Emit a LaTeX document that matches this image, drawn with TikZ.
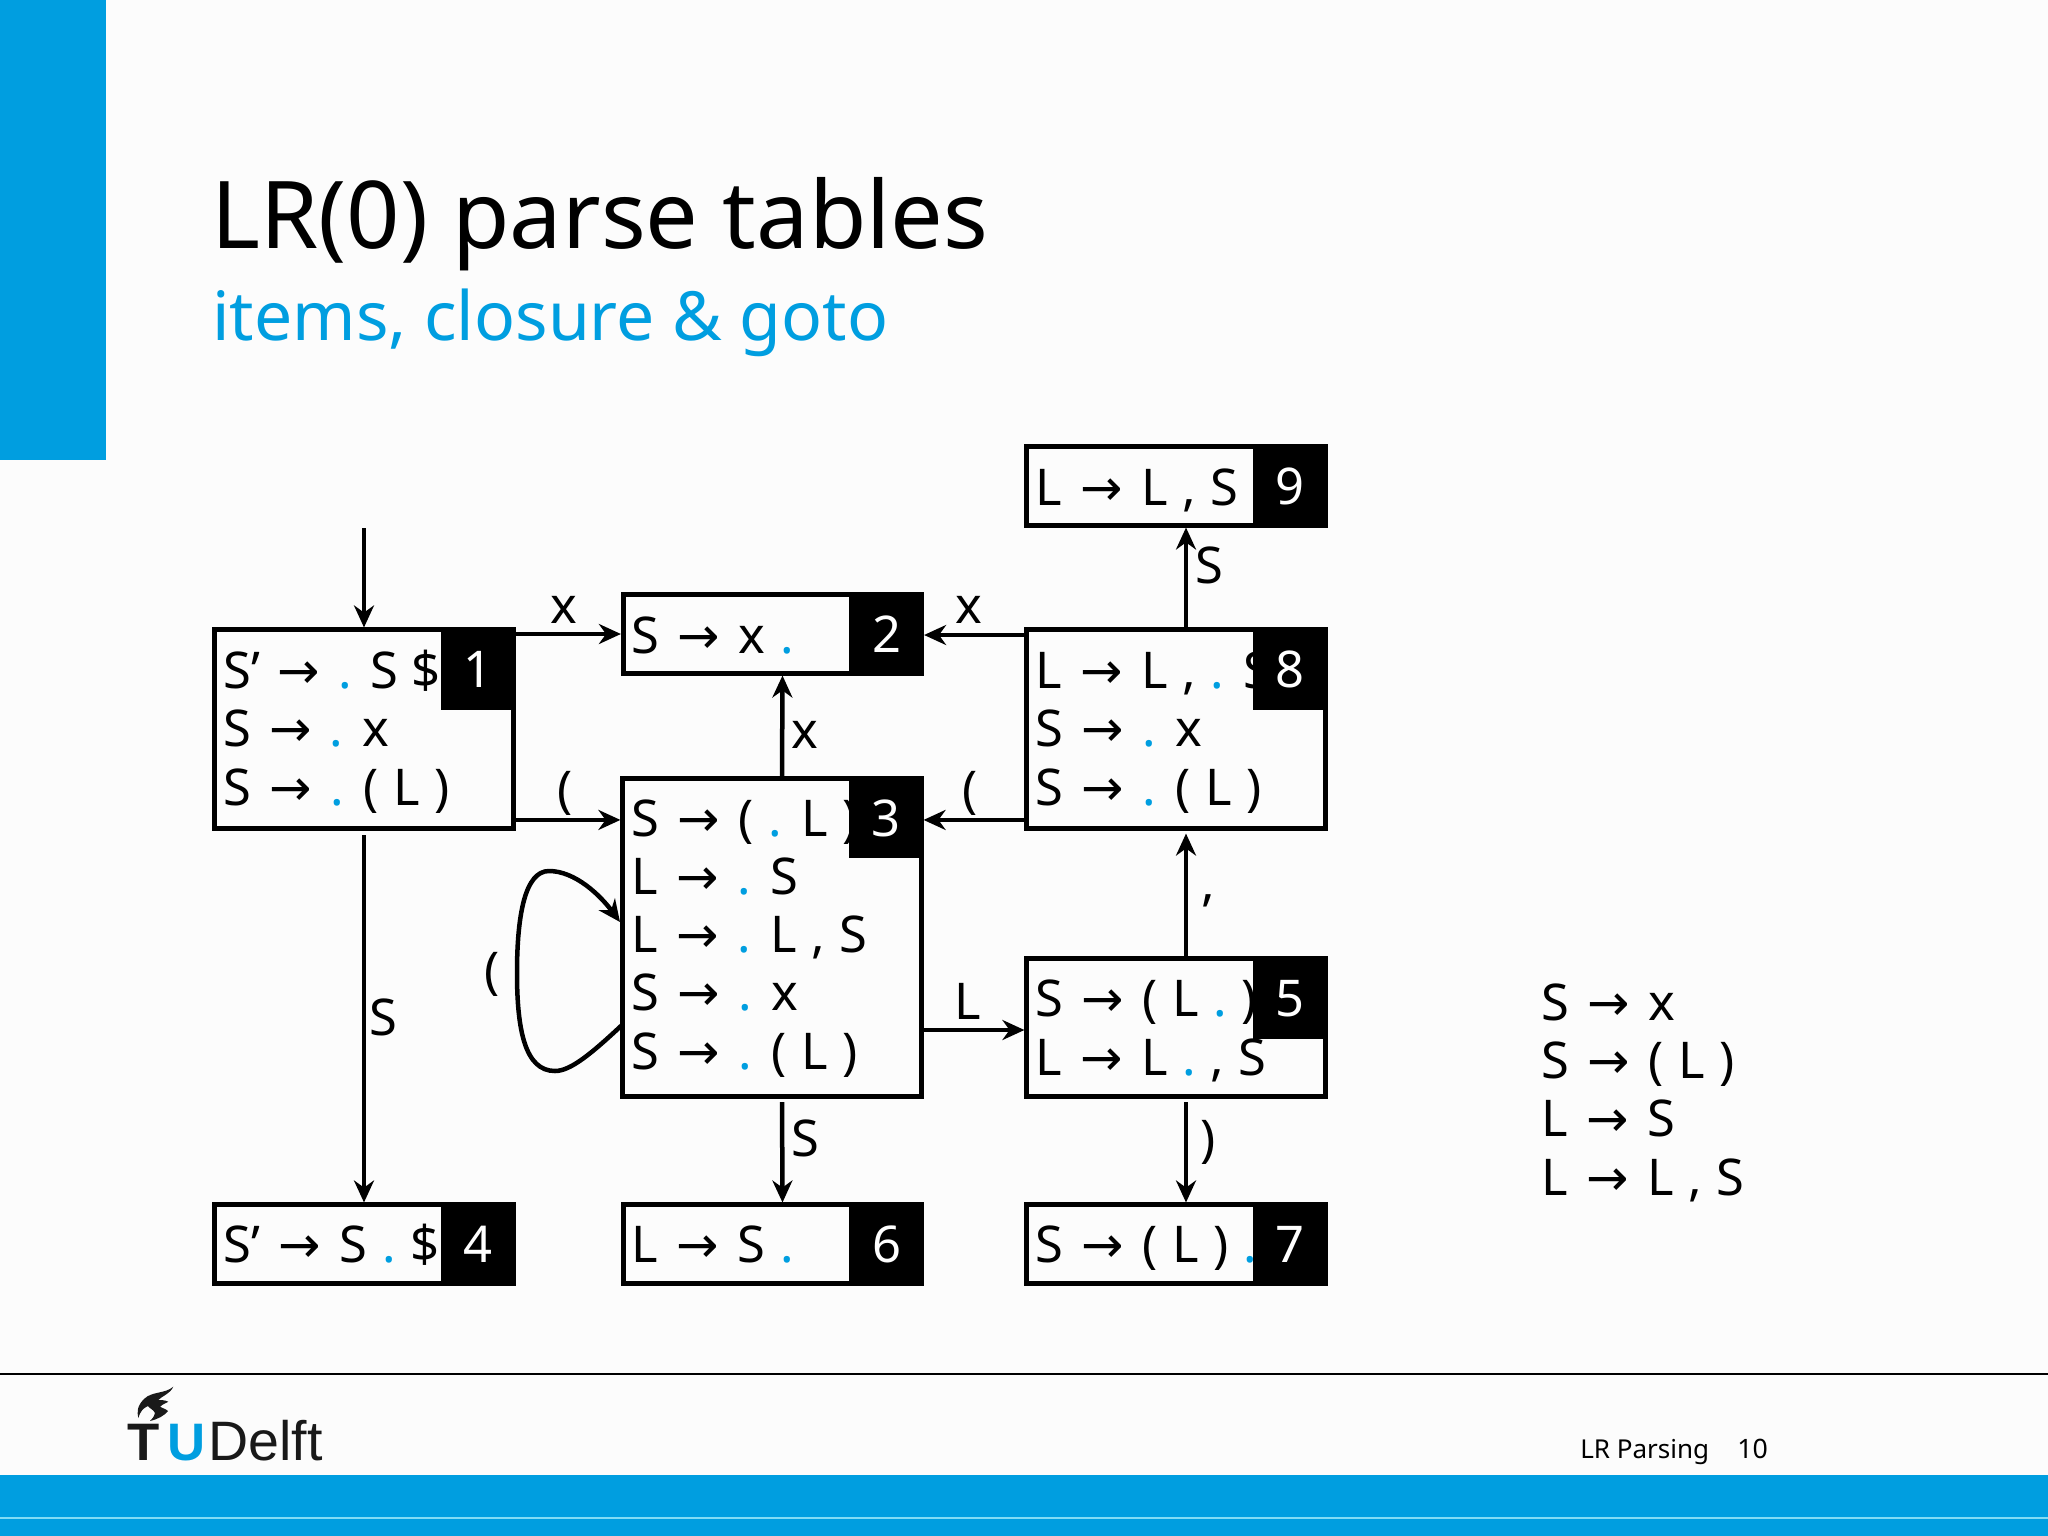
\documentclass[tikz,border=0pt]{standalone}
\usepackage{fontspec}
\setmainfont{Noto Sans}
\newfontfamily\rulefamily[WordSpace=1.05]{Noto Sans}
\newfontfamily\arrowfont{DejaVu Sans}
\newfontfamily\logofont{Liberation Sans}
\usepackage{xcolor}
\usetikzlibrary{arrows.meta,positioning}
\definecolor{tublue}{RGB}{0,158,224}
\definecolor{tuline}{RGB}{130,220,245}
\newcommand{\ar}{\hspace{1.2pt}{\arrowfont\char"2192}\hspace{1.2pt}}
\newcommand{\dt}{{\color{tublue}\textbf{.}}}

\begin{document}
\begin{tikzpicture}[>={Stealth[length=0.22cm,width=0.2cm]}, x=0.01cm, y=-0.01cm, line width=0.045cm]
  % Styles
  \tikzstyle{state}=[draw, line width=0.05cm, inner sep=0, minimum width=2.98cm]
  \tikzstyle{tag}=[fill=black, text=white, inner sep=0, outer sep=0, minimum width=0.75cm, minimum height=0.82cm, text height=11pt, text depth=0pt, font=\fontsize{14.4}{16}\selectfont]
  \tikzstyle{rules}=[anchor=base west, inner sep=0, align=left, font=\rulefamily\fontsize{14.4}{16.5}\selectfont]
  \tikzstyle{lab}=[inner sep=0, font=\fontsize{14.4}{16}\selectfont]
  \tikzstyle{band}=[fill=tublue, draw=none, inner sep=0, outer sep=0, anchor=north west]
  \tikzstyle{edge}=[->, shorten <=1pt]

  \useasboundingbox (0,0) rectangle (2048,1536);
  \fill[black!1] (0,0) rectangle (2048,1536);

  % Slide frame
  \node[band, minimum width=1.06cm, minimum height=4.60cm] (side) at (0,0) {};
  \node[band, minimum width=20.48cm, minimum height=0.61cm] (foot) at (0,1475) {};
  \coordinate (rulea) at (0,1374);
  \coordinate (ruleb) at (2048,1374);
  \coordinate (linea) at (0,1518);
  \coordinate (lineb) at (2048,1518);
  \draw[line width=0.02cm] (rulea) -- (ruleb);
  \draw[tuline, line width=0.015cm] (linea) -- (lineb);

  \node[anchor=base west, inner sep=0, font=\fontsize{26.6}{30}\selectfont] (title) at (209,248) {LR(0) parse tables};
  \node[anchor=base west, inner sep=0, text=tublue, font=\fontsize{19.3}{24}\selectfont] (subtitle) at (210,340) {items, closure \& goto};

  % Logo
  \fill[black!90] (173.3,1386.7) .. controls (165,1394) and (152,1391) .. (144,1399)
    .. controls (137,1406) and (137,1412) .. (138.3,1418)
    .. controls (140,1412) and (143,1408) .. (148,1406)
    .. controls (149,1408) and (154,1410) .. (155,1413)
    .. controls (154,1417) and (152,1419) .. (150,1421)
    .. controls (158,1419) and (164,1416) .. (168,1411)
    .. controls (166,1409) and (162,1408) .. (160,1406.7)
    .. controls (163,1404) and (166,1403) .. (168.3,1401.7)
    .. controls (165,1400) and (161,1400) .. (158.3,1400)
    .. controls (162,1396) and (170,1394) .. (173.3,1386.7) -- cycle;
  \node[anchor=base west, inner sep=0, text=black!90, font=\logofont\bfseries\fontsize{15}{16}\selectfont] (logot) at (125.5,1460) {T};
  \node[anchor=base west, inner sep=0, text=tublue, font=\logofont\bfseries\fontsize{15}{16}\selectfont] (logou) at (165,1460) {U};
  \node[anchor=base west, inner sep=0, text=black!90, font=\logofont\fontsize{15.8}{16}\selectfont] (logod) at (206,1460) {Delft};

  \node[anchor=base west, inner sep=0, font=\fontsize{7.4}{10}\selectfont] (footer) at (1578,1458) {LR Parsing};
  \node[anchor=base west, inner sep=0, font=\fontsize{7.6}{10}\selectfont] (page) at (1735,1458) {10};

  % States
  \node[state, minimum height=1.98cm] (b1) at (364,729) {};
  \node[state, minimum height=0.78cm] (b2) at (772.5,634) {};
  \node[state, minimum height=3.17cm] (b3) at (772,937.5) {};
  \node[state, minimum height=0.78cm] (b4) at (364,1244) {};
  \node[state, minimum height=1.37cm] (b5) at (1176,1027.5) {};
  \node[state, minimum height=0.78cm] (b6) at (772.5,1244) {};
  \node[state, minimum height=0.78cm] (b7) at (1176,1244) {};
  \node[state, minimum height=1.98cm] (b8) at (1176,729) {};
  \node[state, minimum height=0.78cm] (b9) at (1176,486) {};

  \node[rules] (r1) at (221,805) {S’ \ar{} \dt{} S \$\\S \ar{} \dt{} x\\S \ar{} \dt{} ( L )};
  \node[rules] (r2) at (629,653) {S \ar{} x \dt};
  \node[rules] (r3) at (629,1069) {S \ar{} ( \dt{} L )\\L \ar{} \dt{} S\\L \ar{} \dt{} L , S\\S \ar{} \dt{} x\\S \ar{} \dt{} ( L )};
  \node[rules] (r4) at (221,1262) {S’ \ar{} S \dt{} \$};
  \node[rules] (r5) at (1033,1075) {S \ar{} ( L \dt{} )\\L \ar{} L \dt{} , S};
  \node[rules] (r6) at (629,1262) {L \ar{} S \dt};
  \node[rules] (r7) at (1033,1262) {S \ar{} ( L ) \dt};
  \node[rules] (r8) at (1033,805) {L \ar{} L , \dt{} S\\S \ar{} \dt{} x\\S \ar{} \dt{} ( L )};
  \node[rules] (r9) at (1033,505) {L \ar{} L , S};

  \node[tag, anchor=north east] (t1) at (b1.north east) {1};
  \node[tag, anchor=north east] (t2) at (b2.north east) {2};
  \node[tag, anchor=north east] (t3) at (b3.north east) {3};
  \node[tag, anchor=north east] (t4) at (b4.north east) {4};
  \node[tag, anchor=north east] (t5) at (b5.north east) {5};
  \node[tag, anchor=north east] (t6) at (b6.north east) {6};
  \node[tag, anchor=north east] (t7) at (b7.north east) {7};
  \node[tag, anchor=north east] (t8) at (b8.north east) {8};
  \node[tag, anchor=north east] (t9) at (b9.north east) {9};

  % Transitions
  \coordinate (start) at (364,528);
  \draw[->] (start) -- (b1.north);
  \draw[->] (b2.west -| b1.east) -- (b2.west);
  \draw[->] ([yshift=-0.25mm]t3.center -| b1.east) -- ([yshift=-0.25mm]t3.center -| b3.west);
  \draw[edge, shorten <=1.4pt] (b1.south) -- (b4.north);
  \draw[->] ([yshift=-0.1mm]b2.east -| b8.west) -- ([yshift=-0.1mm]b2.east);
  \draw[->] ([yshift=-0.25mm]t3.center -| b8.west) -- ([yshift=-0.25mm]t3.center -| b3.east);
  \draw[->] ([xshift=1mm]b3.north) -- ([xshift=1mm]b2.south);
  \draw[edge] ([xshift=1mm]b3.south) -- ([xshift=1mm]b6.north);
  \draw[->] ([yshift=-0.25mm]b5.west -| b3.east) -- ([yshift=-0.25mm]b5.west);
  \draw[->] ([xshift=1mm]b5.north) -- ([xshift=1mm,yshift=-0.3mm]b8.south);
  \draw[edge] ([xshift=1mm]b5.south) -- ([xshift=1mm]b7.north);
  \draw[->] ([xshift=1mm]b8.north) -- ([xshift=1mm]b9.south);

  % Loop on state 3
  \coordinate (loopout) at (622,1025);
  \coordinate (loopin) at (620,922);
  \draw[->] (loopout) .. controls (590,1055) and (570,1071) .. (555,1071)
    .. controls (525,1071) and (517,1030) .. (517,973)
    .. controls (517,915) and (525,871) .. (549,871)
    .. controls (575,871) and (600,895) .. (loopin);

  % Labels
  \node[lab] (l12) at (564,610) {x};
  \node[lab] (l13) at (565,793) {(};
  \node[lab] (l14) at (383,1017) {S};
  \node[lab] (l82) at (969,610) {x};
  \node[lab] (l83) at (970,793) {(};
  \node[lab] (l32) at (805,735) {x};
  \node[lab] (l33) at (492,974) {(};
  \node[lab] (l35) at (968,1001) {L};
  \node[lab] (l36) at (805,1138) {S};
  \node[lab] (l58) at (1208,901) {,};
  \node[lab] (l57) at (1208,1142) {)};
  \node[lab] (l89) at (1209,565) {S};

  % Grammar
  \node[rules] (gram) at (1539,1195) {S \ar{} x\\S \ar{} ( L )\\L \ar{} S\\L \ar{} L , S};
\end{tikzpicture}
\end{document}
